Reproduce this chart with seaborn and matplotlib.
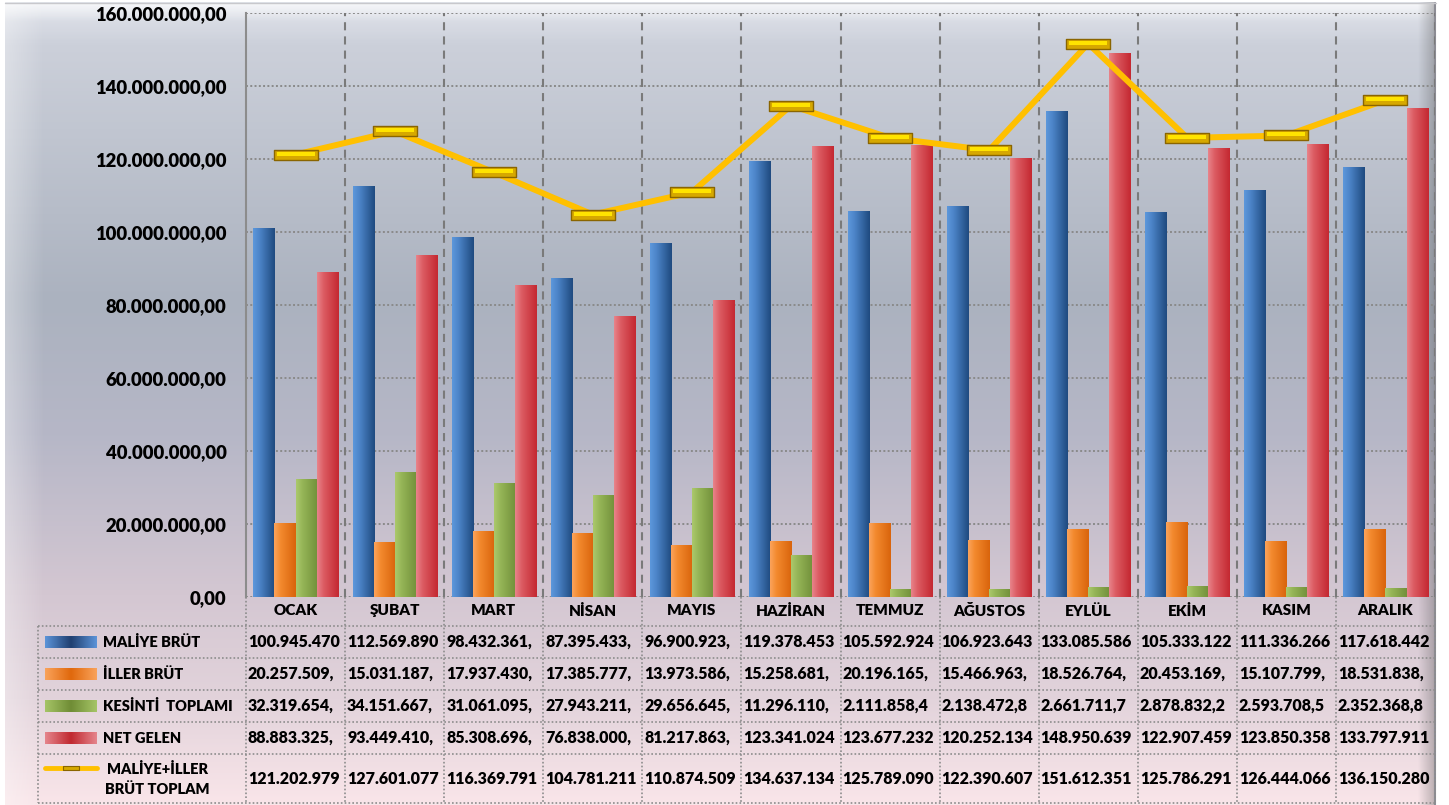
import numpy as np
import pandas as pd
import matplotlib
matplotlib.use("Agg")
import matplotlib.pyplot as plt
import seaborn as sns
from matplotlib.path import Path
from matplotlib.colors import LinearSegmentedColormap
from matplotlib.ticker import FuncFormatter, FixedLocator

# ---------------- data ----------------
months = ["OCAK", "ŞUBAT", "MART", "NİSAN", "MAYIS", "HAZİRAN",
          "TEMMUZ", "AĞUSTOS", "EYLÜL", "EKİM", "KASIM", "ARALIK"]
maliye_brut = [100945470, 112569890, 98432361, 87395433, 96900923, 119378453,
               105592924, 106923643, 133085586, 105333122, 111336266, 117618442]
iller_brut = [20257509, 15031187, 17937430, 17385777, 13973586, 15258681,
              20196165, 15466963, 18526764, 20453169, 15107799, 18531838]
kesinti_toplami = [32319654, 34151667, 31061095, 27943211, 29656645, 11296110,
                   2111858.4, 2138472.8, 2661711.7, 2878832.2, 2593708.5, 2352368.8]
net_gelen = [88883325, 93449410, 85308696, 76838000, 81217863, 123341024,
             123677232, 120252134, 148950639, 122907459, 123850358, 133797911]
brut_toplam = [121202979, 127601077, 116369791, 104781211, 110874509, 134637134,
               125789090, 122390607, 151612351, 125786291, 126444066, 136150280]
series_names = ["MALİYE BRÜT", "İLLER BRÜT", "KESİNTİ  TOPLAMI", "NET GELEN"]
line_name = "MALİYE+İLLER\nBRÜT TOPLAM"
y_ticks = [0, 20e6, 40e6, 60e6, 80e6, 100e6, 120e6, 140e6, 160e6]

# ---------------- styles ----------------
base_colors = ["#4f81bd", "#f79646", "#9bbb59", "#c0504d"]
bar_grads = [["#5d98dc", "#4c84c8", "#1f4a7f"],
             ["#fba35c", "#f38a2e", "#d9640c"],
             ["#abc96c", "#95b557", "#72903a"],
             ["#e8848b", "#dc5c63", "#c42831"]]
swatch_grads = [["#5b93d8", "#1f3f70", "#5b93d8"],
                ["#f9a25a", "#e0680c", "#f9a25a"],
                ["#a5c466", "#6f8c35", "#a5c466"],
                ["#e5848b", "#c0282f", "#e5848b"]]
line_color = "#ffc000"
FW = "heavy"

sns.set_theme(style="white")
plt.rcParams["font.family"] = ["Lato", "DejaVu Sans"]

W, H = 1449, 805
fig = plt.figure(figsize=(W / 100, H / 100), dpi=100)
fig.patch.set_facecolor("white")

# background gradient
bg = fig.add_axes([0, 0, 1, 1], zorder=0)
bg.set_xlim(0, W)
bg.set_ylim(H, 0)
bg.axis("off")
stops = [(0.0, "#e2e5ec"), (0.05, "#ccd0da"), (0.37, "#abb2bf"), (0.54, "#b6b7c7"),
         (0.74, "#d4c7d2"), (0.87, "#e2d3db"), (1.0, "#f9e5e9")]
vcmap = LinearSegmentedColormap.from_list("bgv", stops)
grad = vcmap(np.linspace(0, 1, 400))[:, None, :3]
bg.imshow(grad, extent=[5, 1436, 805, 3], aspect="auto", interpolation="bicubic", zorder=0)
lw_h = np.zeros((1, 60, 4)); lw_h[..., :3] = 1; lw_h[0, :, 3] = np.linspace(0.35, 0, 60)
bg.imshow(lw_h, extent=[5, 45, 805, 3], aspect="auto", zorder=1)
tp_h = np.zeros((60, 1, 4)); tp_h[..., :3] = 1; tp_h[:, 0, 3] = np.linspace(0.7, 0, 60)
bg.imshow(tp_h, extent=[5, 1436, 22, 3], aspect="auto", zorder=1)
rt_s = np.zeros((1, 60, 4)); rt_s[..., :3] = 0.35; rt_s[0, :, 3] = np.linspace(0, 0.35, 60)
bg.imshow(rt_s, extent=[1418, 1434, 805, 3], aspect="auto", zorder=1)
bg.plot([1435, 1435], [3, 805], color="#8c8c94", lw=1.5, zorder=2)
bg.plot([5, 1436], [3, 3], color="#c8c8cc", lw=1, zorder=2)

# ---------------- main axes ----------------
L, R, T, B = 246, 1435, 13, 597
ax = fig.add_axes([L / W, 1 - B / H, (R - L) / W, (B - T) / H], zorder=2)
ax.patch.set_alpha(0)

df = pd.DataFrame({
    "Ay": np.tile(months, 4),
    "Seri": np.repeat(series_names, 12),
    "Deger": np.concatenate([maliye_brut, iller_brut, kesinti_toplami, net_gelen]),
})
sns.barplot(data=df, x="Ay", y="Deger", hue="Seri", order=months, hue_order=series_names,
            palette=base_colors, width=0.85, gap=0, saturation=1, errorbar=None,
            legend=False, ax=ax, zorder=3)

for cont, cols in zip(ax.containers, bar_grads):
    cm = LinearSegmentedColormap.from_list("b", [(0, cols[0]), (0.3, cols[1]), (1, cols[2])])
    g = cm(np.linspace(0, 1, 64))[None, :, :3]
    for bar in cont:
        x0, w, h = bar.get_x(), bar.get_width(), bar.get_height()
        ax.imshow(g, extent=[x0, x0 + w, 0, h], aspect="auto", interpolation="bicubic", zorder=3)
        bar.set_alpha(0)

rect = Path([(-2.1, -0.5), (2.1, -0.5), (2.1, 0.5), (-2.1, 0.5), (-2.1, -0.5)],
            [Path.MOVETO, Path.LINETO, Path.LINETO, Path.LINETO, Path.CLOSEPOLY])
# highlight shape: same normalisation extents via lone MOVETO points
hl = Path([(-2.1, -0.5), (2.1, 0.5),
           (-1.85, -0.05), (1.85, -0.05), (1.85, 0.34), (-1.85, 0.34), (-1.85, -0.05)],
          [Path.MOVETO, Path.MOVETO,
           Path.MOVETO, Path.LINETO, Path.LINETO, Path.LINETO, Path.CLOSEPOLY])
sns.lineplot(x=months, y=brut_toplam, ax=ax, color=line_color, lw=4.3, sort=False,
             marker=rect, markersize=31, markerfacecolor="#d6a800",
             markeredgecolor="#8a6500", markeredgewidth=1.0, zorder=6)
sns.lineplot(x=months, y=brut_toplam, ax=ax, lw=0, sort=False,
             marker=hl, markersize=31, markerfacecolor="#ffe400",
             markeredgecolor="none", markeredgewidth=0, zorder=7)

ax.set_xlim(-0.5, 11.5)
ax.set_ylim(0, 160e6)
for yv in y_ticks:
    ax.axhline(yv, color="#8a8a8a", lw=1.4, ls=(0, (1, 1.2)), zorder=1)
for k in range(12):
    ax.axvline(k + 0.5, color="#7a7a7a", lw=1.5, ls=(0, (3.9, 2.9)), zorder=1)
for s in ["top", "right", "bottom"]:
    ax.spines[s].set_visible(False)
ax.spines["left"].set_color("#8c8c8c")
ax.spines["left"].set_linewidth(1.5)

def tr_fmt(v, pos=None):
    s = f"{v:,.2f}"
    return s.replace(",", "X").replace(".", ",").replace("X", ".")

ax.yaxis.set_major_locator(FixedLocator(y_ticks))
ax.yaxis.set_major_formatter(FuncFormatter(tr_fmt))
ax.tick_params(axis="y", length=0, pad=14, labelsize=13.3)
ax.tick_params(axis="x", length=0, pad=5, labelsize=11)
for t in ax.get_yticklabels() + ax.get_xticklabels():
    t.set_fontweight(FW)
    t.set_color("black")
ax.set_xlabel("")
ax.set_ylabel("")

# ---------------- data table ----------------
tax = fig.add_axes([0, 0, 1, 1], zorder=1)
tax.patch.set_alpha(0)
tax.set_xlim(0, W)
tax.set_ylim(H, 0)
tax.axis("off")
tl = 38
row_edges = [626, 658, 690, 722, 754, 803]
row_centers = [642, 674, 706, 738, 779]
colw = (R - L) / 12
col_edges = [L + i * colw for i in range(13)]
dot = dict(color="#8c8c8c", lw=1.2, ls=(0, (1, 1.3)))
for y in row_edges:
    tax.plot([tl, R], [y, y], **dot)
tax.plot([tl, tl], [row_edges[0], row_edges[-1]], **dot)
for x in col_edges:
    tax.plot([x, x], [B, row_edges[-1]], **dot)

def cell_text(v):
    return tr_fmt(v)[:11]

all_series = [maliye_brut, iller_brut, kesinti_toplami, net_gelen, brut_toplam]
for r, (vals, yc) in enumerate(zip(all_series, row_centers)):
    for i, v in enumerate(vals):
        tax.text(col_edges[i] + 2, yc, cell_text(v), ha="left", va="center",
                 fontsize=11.5, fontweight=FW, color="black")

for r in range(4):
    yc = row_centers[r]
    cm = LinearSegmentedColormap.from_list("s", swatch_grads[r])
    g = cm(np.linspace(0, 1, 64))[None, :, :3]
    tax.imshow(g, extent=[45, 97, yc + 6, yc - 6], aspect="auto", interpolation="bicubic", zorder=2)
    tax.text(103, yc, series_names[r], ha="left", va="center", fontsize=10.5,
             fontweight=FW, color="black")
tax.plot([45, 97], [768, 768], color=line_color, lw=3.5, solid_capstyle="round", zorder=3)
tax.plot([71], [768], marker=rect, markersize=11, markerfacecolor="#d6a800",
         markeredgecolor="#8a6500", markeredgewidth=0.8, zorder=4)
tax.text(157, 779, line_name, ha="center", va="center", multialignment="center",
         fontsize=10.5, fontweight=FW, color="black", linespacing=1.5)

fig.savefig("out.png", dpi=100)
